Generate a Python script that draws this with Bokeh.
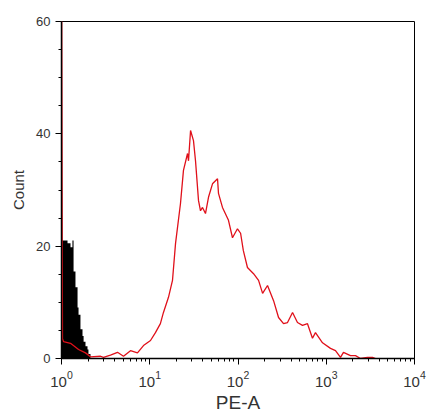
from bokeh.plotting import figure
from bokeh.models import Range1d, LogTicker, FixedTicker
from bokeh.embed import file_html
from bokeh.resources import INLINE

# Red histogram (stained sample): PE-A value, count
red_x = [1.0, 1.0, 1.026, 1.054, 1.265, 1.56, 1.87, 2.13, 2.77, 2.99, 3.59, 4.31, 5.04,
         6.05, 7.26, 8.49, 10.2, 11.6, 13.2, 14.3, 16.3, 18.1, 19.6, 22.3, 24.1,
         26.8, 27.5, 29.0, 31.3, 33.0, 35.7, 37.6, 39.6, 42.8, 46.3, 51.4, 58.6,
         60.1, 66.7, 78.0, 86.6, 98.6, 107, 115, 128, 150, 171, 190, 216, 253,
         288, 328, 364, 415, 472, 538, 613, 698, 755, 907, 1117, 1273, 1450, 1567,
         1882, 2145, 2445, 2933, 3343, 3615]
red_y = [80, 80, 3.5, 3.0, 2.7, 1.6, 1.0, 0.3, 0.4, 0.2, 0.6, 1.1, 0.4,
         1.4, 1.0, 2.3, 3.2, 4.6, 6.2, 8.2, 10.9, 13.9, 20.5, 27.6, 33.5,
         36.5, 35.2, 40.6, 38.8, 35.2, 28.1, 26.3, 26.9, 25.8, 28.7, 31.1, 32.0,
         29.4, 26.9, 24.6, 21.5, 23.1, 22.3, 19.2, 16.2, 15.1, 13.9, 11.6, 13.0, 10.3,
         7.3, 6.2, 6.4, 8.2, 6.4, 5.9, 6.2, 3.6, 4.6, 2.8, 1.8, 1.4, 0.2, 1.1,
         0.5, 0.5, 0.0, 0.2, 0.2, 0.0]

# Black filled histogram (isotype control)
black_x = [1.0, 1.026, 1.11, 1.17, 1.265, 1.33, 1.37, 1.44, 1.52, 1.56, 1.64,
           1.73, 1.78, 1.87, 1.97, 2.02, 2.13]
black_y = [21, 21, 21, 20.5, 19.8, 21, 15.5, 12.7, 9.1, 7.8, 5.2,
           4.0, 3.0, 2.2, 1.6, 0.8, 0.0]

y_ticks = [0, 20, 40, 60]
y_minor = [5, 10, 15, 25, 30, 35, 45, 50, 55]

p = figure(width=430, height=416, x_axis_type="log",
           x_range=Range1d(1, 10000), y_range=Range1d(0, 60),
           output_backend="svg", toolbar_location=None,
           min_border_left=61, min_border_top=21, min_border_right=16,
           min_border_bottom=58)

p.varea_step(x=black_x, y1=[0]*len(black_x), y2=black_y, step_mode="after",
             fill_color="black")
p.line(x=red_x, y=red_y, line_color="#e0101a", line_width=1.3)

p.grid.visible = False
p.outline_line_color = "black"
p.outline_line_width = 1
p.background_fill_color = "white"
p.border_fill_color = "white"

p.xaxis.ticker = LogTicker(num_minor_ticks=10)
p.yaxis.ticker = FixedTicker(ticks=y_ticks, minor_ticks=y_minor)

for ax in (p.xaxis[0], p.yaxis[0]):
    ax.axis_line_color = "black"
    ax.axis_line_width = 1.5
    ax.major_tick_line_color = "black"
    ax.minor_tick_line_color = "black"
    ax.major_tick_out = 6
    ax.major_tick_in = 0
    ax.minor_tick_out = 3
    ax.minor_tick_in = 0
    ax.major_label_text_font = "Liberation Sans"
    ax.major_label_text_color = "#333333"
    ax.axis_label_text_font = "Liberation Sans"
    ax.axis_label_text_font_style = "normal"
    ax.axis_label_text_color = "#333333"

p.xaxis.major_label_text_font_size = "15px"
p.xaxis.major_label_standoff = 6
p.yaxis.major_label_text_font_size = "13px"
p.xaxis.axis_label = "PE-A"
p.xaxis.axis_label_text_font_size = "19px"
p.xaxis.axis_label_standoff = 2
p.yaxis.axis_label = "Count"
p.yaxis.axis_label_text_font_size = "15px"
p.yaxis.axis_label_standoff = 6

open("out.html", "w").write(file_html(p, INLINE))
